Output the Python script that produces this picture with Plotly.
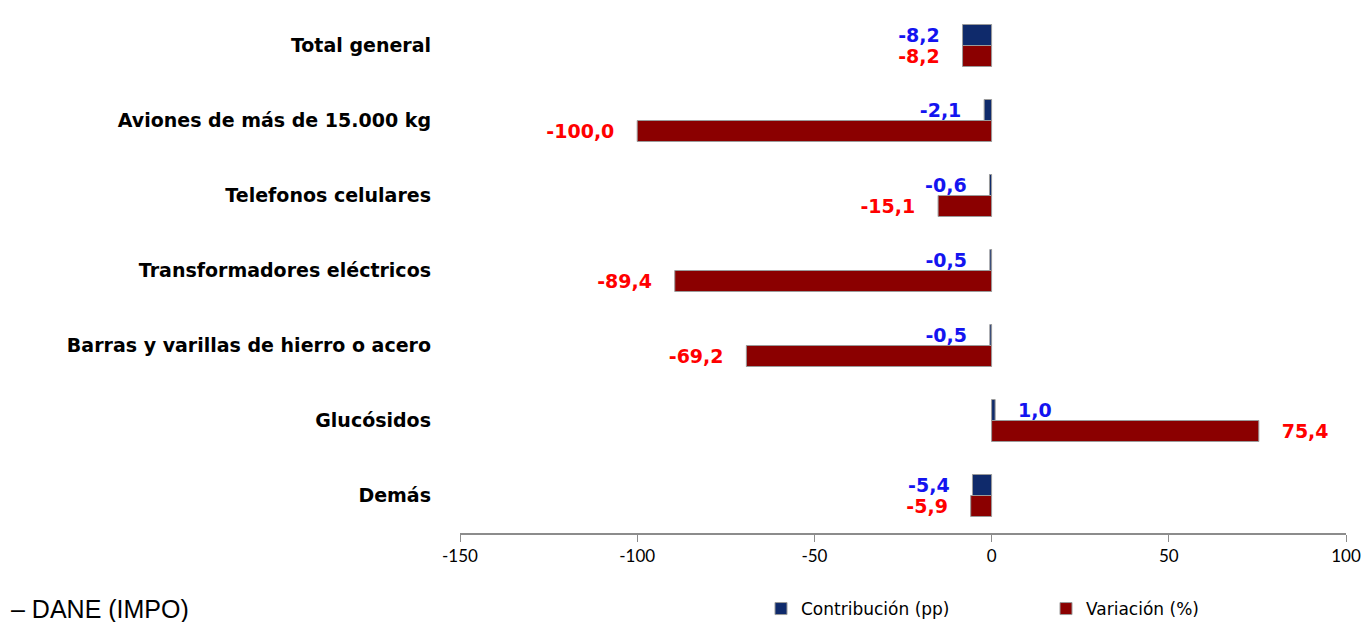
import plotly.graph_objects as go

# Datos
categorias = ['Total general', 'Aviones de más de 15.000 kg', 'Telefonos celulares',
              'Transformadores eléctricos', 'Barras y varillas de hierro o acero',
              'Glucósidos', 'Demás']
contribucion = [-8.2, -2.1, -0.6, -0.5, -0.5, 1.0, -5.4]
variacion = [-8.2, -100.0, -15.1, -89.4, -69.2, 75.4, -5.9]
x_ticks = [-150, -100, -50, 0, 50, 100]

# la página deja 8 px de margen alrededor del gráfico
OFF = 8
W, H = 1371 - OFF, 622 - OFF
ML, MR, MT, MB = 460 - OFF, 25, 0, 89
PW, PH = W - ML - MR, H - MT - MB

NB = '\u00a0' * 3


def etiquetas(vals):
    # valor con coma decimal y un pequeño espacio hacia fuera de la barra
    out = []
    for v in vals:
        s = f'{v:.1f}'.replace('.', ',')
        out.append(s + NB if v < 0 else NB + s)
    return out


def px_x(px):
    return (px - OFF - ML) / PW


def px_y(py):
    return 1 - (py - OFF - MT) / PH


fig = go.Figure()

fig.add_trace(go.Bar(
    y=categorias, x=contribucion, orientation='h', name='Contribución (pp)',
    marker=dict(color='#0F2A6B', line=dict(color='#9A9A9A', width=1)),
    text=etiquetas(contribucion), textposition='outside', constraintext='none',
    cliponaxis=False,
    textfont=dict(family='DejaVu Sans', size=19, color='#1414F0', weight='bold'),
))
fig.add_trace(go.Bar(
    y=categorias, x=variacion, orientation='h', name='Variación (%)',
    marker=dict(color='#8B0000', line=dict(color='#9A9A9A', width=1)),
    text=etiquetas(variacion), textposition='outside', constraintext='none',
    cliponaxis=False,
    textfont=dict(family='DejaVu Sans', size=19, color='#FF0000', weight='bold'),
))

n = len(categorias)
pos_cero = (0 - x_ticks[0]) / (x_ticks[-1] - x_ticks[0])

fig.update_layout(
    width=W, height=H,
    margin=dict(l=ML, r=MR, t=MT, b=MB, autoexpand=False),
    paper_bgcolor='white', plot_bgcolor='white',
    barmode='group', bargap=0.44, bargroupgap=0,
    font=dict(family='DejaVu Sans', color='black'),
    xaxis=dict(range=[x_ticks[0], x_ticks[-1]], tickvals=x_ticks,
               ticktext=[str(t) for t in x_ticks],
               showgrid=False, zeroline=False,
               showline=True, linecolor='#8C8C8C', linewidth=1.5,
               ticks='outside', ticklen=7, tickcolor='#8C8C8C',
               tickfont=dict(family='Lato', size=17, color='black')),
    yaxis=dict(autorange='reversed', showgrid=False, zeroline=False, showline=False,
               ticks='', ticklabelstandoff=28,
               tickfont=dict(family='DejaVu Sans', size=19, color='black', weight='bold')),
    # eje vertical en el cero con marcas entre categorías
    yaxis2=dict(overlaying='y', anchor='free', position=pos_cero, side='left',
                range=[n - 0.5, -0.5], tickvals=[i - 0.5 for i in range(n + 1)],
                showticklabels=False, ticks='outside', ticklen=8, tickcolor='#8C8C8C',
                showline=True, linecolor='#8C8C8C', linewidth=1.5, showgrid=False,
                zeroline=False),
    legend=dict(orientation='h', x=px_x(761), xanchor='left',
                y=px_y(591), yanchor='top',
                entrywidthmode='pixels', entrywidth=240,
                font=dict(family='DejaVu Sans', size=17, color='black')),
    showlegend=True,
)

fig.add_annotation(text='– DANE (IMPO)', xref='paper', yref='paper',
                   x=px_x(9), xanchor='left',
                   y=px_y(609), yanchor='middle',
                   showarrow=False,
                   font=dict(family='Liberation Sans', size=25, color='black'))

fig.write_html('out.html')
